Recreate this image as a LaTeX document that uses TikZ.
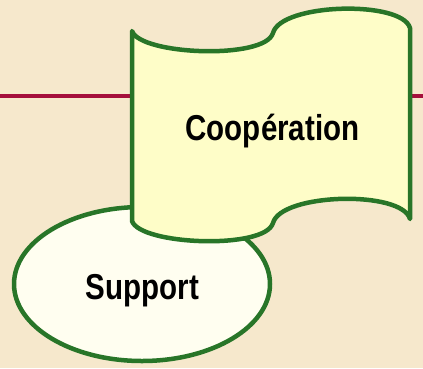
\documentclass[tikz,border=0pt]{standalone}
\usepackage{fontspec}
\usetikzlibrary{shapes.geometric}
\newfontfamily\labelfont[FakeStretch=0.82]{Liberation Sans}
\definecolor{paper}{HTML}{F6E8CC}
\definecolor{leafgreen}{HTML}{287528}
\definecolor{wine}{HTML}{A50F3C}
\definecolor{bannerfill}{HTML}{FEFDC8}
\definecolor{ovalfill}{HTML}{FFFEF0}
\tikzset{
  outline/.style={draw=leafgreen, line width=4.5pt, line join=round, line cap=round},
  caption/.style={font=\labelfont\bfseries\fontsize{36}{40}\selectfont, anchor=base, inner sep=0pt},
  rule/.style={draw=wine, line width=3.5pt}
}
\begin{document}
\begin{tikzpicture}[x=1pt, y=-1pt]
  % canvas
  \fill[paper] (0,0) rectangle (423,368);
  \useasboundingbox (0,0) rectangle (423,368);

  % horizontal rule running behind the banner
  \coordinate (ruleL) at (0,96);
  \coordinate (ruleR) at (423,96);
  \draw[rule] (ruleL) -- (ruleR);

  % oval
  \node[outline, ellipse, fill=ovalfill, minimum width=256pt, minimum height=154pt, inner sep=0pt] (support) at (142,284) {};
  \node[caption] (supportlabel) at (142.5,299) {Support};

  % waving banner
  \filldraw[outline, fill=bannerfill]
    (132,31) .. controls (140,55) and (265,60) .. (273,33)
             .. controls (281,3) and (402,0) .. (410,28)
    -- (410,219)
             .. controls (402,190) and (281,193) .. (273,223)
             .. controls (265,250) and (140,245) .. (132,221)
    -- cycle;
  \node[caption] (cooperation) at (272.5,140) {Coopération};
\end{tikzpicture}
\end{document}
